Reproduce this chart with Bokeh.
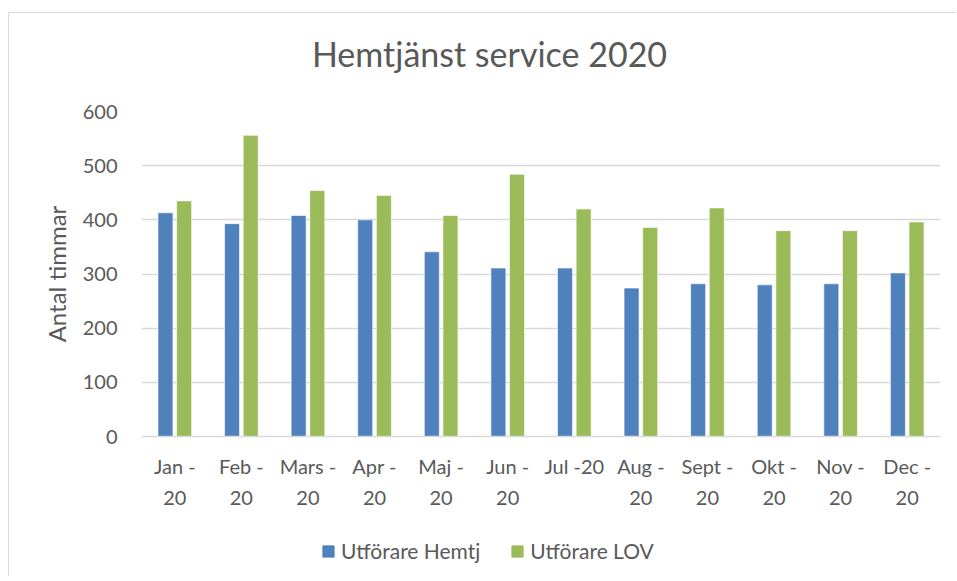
from bokeh.plotting import figure
from bokeh.layouts import column
from bokeh.models import (FactorRange, Range1d, CategoricalAxis, Legend, LegendItem,
                          ColumnDataSource, Label)
from bokeh.transform import dodge
from bokeh.embed import file_html
from bokeh.resources import INLINE

# ---- data ----
months = ["Jan -", "Feb -", "Mars -", "Apr -", "Maj -", "Jun -", "Jul -20",
          "Aug -", "Sept -", "Okt -", "Nov -", "Dec -"]
second_line = ["20", "20", "20", "20", "20", "20", "", "20", "20", "20", "20", "20"]
hemtj = [413, 393, 408, 400, 341, 311, 311, 274, 282, 280, 282, 302]
lov = [435, 556, 454, 445, 408, 484, 420, 386, 422, 380, 380, 396]
series_names = ["Utförare Hemtj", "Utförare LOV"]
y_ticks = [0, 100, 200, 300, 400, 500, 600]
title_text = "Hemtjänst service 2020"
y_label = "Antal timmar"

FONT = "Lato"
TXT = "#595959"
BLUE = "#4F81BD"
GREEN = "#9BBB59"
GRID = "#D9D9D9"
W = 947

# unique factor names for the second label line (zero-width spaces keep them unique)
ZW = "\u200b"
second_factors = [s + ZW * i if s else ZW * (30 + i) for i, s in enumerate(second_line)]

src = ColumnDataSource(dict(m=months, h=hemtj, l=lov))

# ---- title strip ----
pt = figure(width=W, height=78, x_range=Range1d(0, 1), y_range=Range1d(0, 1),
            output_backend="svg", toolbar_location=None,
            x_axis_location=None, y_axis_location=None,
            min_border=0, outline_line_color=None)
pt.grid.visible = False
pt.add_layout(Label(x=348, y=38, x_units="screen", y_units="screen", text=title_text,
                    text_align="center", text_baseline="middle", text_font=FONT,
                    text_font_size="34px", text_color=TXT))

# ---- main chart ----
p = figure(x_range=FactorRange(factors=months, range_padding=0),
           y_range=Range1d(0, 600),
           frame_width=799, frame_height=325, output_backend="svg", toolbar_location=None,
           min_border_left=132, min_border_right=16, min_border_top=20,
           min_border_bottom=90, x_axis_location=None)
p.extra_x_ranges = {"second": FactorRange(factors=second_factors, range_padding=0)}

r1 = p.vbar(x=dodge("m", -0.14, range=p.x_range), top="h", width=0.225, source=src,
            fill_color=BLUE, line_color="white", line_width=0.6)
r2 = p.vbar(x=dodge("m", 0.14, range=p.x_range), top="l", width=0.225, source=src,
            fill_color=GREEN, line_color="white", line_width=0.6)

ax1 = CategoricalAxis(axis_line_color=GRID, axis_line_width=1.5,
                      major_tick_line_color=None, minor_tick_line_color=None,
                      major_label_text_font=FONT, major_label_text_font_size="20px",
                      major_label_text_color=TXT, major_label_standoff=11)
ax2 = CategoricalAxis(x_range_name="second", axis_line_color=None,
                      major_tick_line_color=None, minor_tick_line_color=None,
                      major_label_text_font=FONT, major_label_text_font_size="20px",
                      major_label_text_color=TXT, major_label_standoff=-2)
p.add_layout(ax1, "below")
p.add_layout(ax2, "below")

ya = p.yaxis[0]
ya.ticker = y_ticks
ya.axis_line_color = None
ya.major_tick_line_color = None
ya.minor_tick_line_color = None
ya.major_label_text_font = FONT
ya.major_label_text_font_size = "20px"
ya.major_label_text_color = TXT
ya.major_label_standoff = 18
ya.axis_label = y_label
ya.axis_label_text_font = FONT
ya.axis_label_text_font_size = "24px"
ya.axis_label_text_font_style = "normal"
ya.axis_label_text_color = TXT
ya.axis_label_standoff = 9

p.xgrid.grid_line_color = None
p.ygrid.grid_line_color = GRID
p.ygrid.grid_line_width = 1.5
p.ygrid.ticker = y_ticks
p.outline_line_color = None

# ---- legend strip (bars drawn from the same data but outside the visible range) ----
pl = figure(width=W, height=50, x_range=FactorRange(factors=months, range_padding=0),
            y_range=Range1d(10000, 10001),
            output_backend="svg", toolbar_location=None,
            x_axis_location=None, y_axis_location=None,
            min_border=0, outline_line_color=None)
pl.grid.visible = False
lr1 = pl.vbar(x="m", top="h", width=0.225, source=src, fill_color=BLUE, line_color=BLUE)
lr2 = pl.vbar(x="m", top="l", width=0.225, source=src, fill_color=GREEN, line_color=GREEN)
legend = Legend(items=[LegendItem(label=series_names[0], renderers=[lr1]),
                       LegendItem(label=series_names[1], renderers=[lr2])],
                orientation="horizontal", location=(180, 13),
                label_text_font=FONT, label_text_font_size="21px", label_text_color=TXT,
                glyph_width=14, glyph_height=14, spacing=30, label_standoff=6,
                border_line_color=None, background_fill_alpha=0, margin=0, padding=0)
pl.add_layout(legend, "center")

layout = column(pt, p, pl, spacing=0)
layout.styles = {"border-left": "1px solid #D9D9D9", "border-top": "1px solid #D9D9D9",
                 "margin-left": "8px", "margin-top": "12px"}

open("out.html", "w").write(file_html(layout, INLINE))
